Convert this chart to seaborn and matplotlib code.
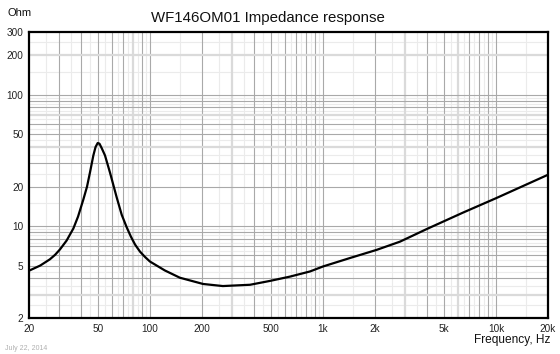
import matplotlib
matplotlib.use("Agg")
import numpy as np
import pandas as pd
import seaborn as sns
import matplotlib.pyplot as plt
from matplotlib.ticker import FixedLocator, FixedFormatter, NullLocator

# ---- data ----
freq_hz = [20, 23.2, 26.4, 28.3, 30.2, 33.0, 36.1, 38.4, 41.2, 43.3, 45.0, 47.1, 48.5,
           49.9, 51.1, 52.6, 55.0, 58.8, 64.3, 68.7, 73.4, 77.7, 82.0, 87.6, 94, 100,
           122, 149, 203, 264, 379, 494, 645, 842, 1000, 1433, 2046, 2789, 3980,
           6475, 10000, 20000]
impedance_ohm = [4.58, 5.01, 5.59, 6.05, 6.65, 7.77, 9.6, 11.8, 15.9, 20.0, 25.5, 34.5, 40.0,
                 42.9, 42.4, 39.3, 34.5, 25.5, 16.5, 12.2, 9.8, 8.3, 7.25, 6.4, 5.8, 5.38,
                 4.6, 4.05, 3.63, 3.50, 3.58, 3.83, 4.13, 4.52, 4.93, 5.72, 6.6, 7.62, 9.5,
                 12.7, 16.3, 24.6]

x_tick_values = [20, 50, 100, 200, 500, 1000, 2000, 5000, 10000, 20000]
x_tick_labels = ["20", "50", "100", "200", "500", "1k", "2k", "5k", "10k", "20k"]
y_tick_values = [2, 5, 10, 20, 50, 100, 200, 300]
y_tick_labels = ["2", "5", "10", "20", "50", "100", "200", "300"]

title_text = "WF146OM01 Impedance response"
y_unit = "Ohm"
x_label = "Frequency, Hz"
date_text = "July 22, 2014"

df = pd.DataFrame({"freq": freq_hz, "z": impedance_ohm})

sns.set_style("white")
plt.rcParams["font.family"] = ["Liberation Sans", "DejaVu Sans"]

W, H = 560, 354
fig = plt.figure(figsize=(W / 100, H / 100), dpi=100)
ax = fig.add_axes([29 / W, (H - 318) / H, (548 - 29) / W, (318 - 32) / H])
ax.set_xscale("log")
ax.set_yscale("log")
ax.set_xlim(20, 20000)
ax.set_ylim(2, 300)

# ---- grid ----
xmin, xmax = 20, 20000
ymin, ymax = 2, 300
x_soft = {80, 300, 3000, 6000}
y_soft = {3, 40, 70, 200}
x_dark = [m * 10 ** e for e in (1, 2, 3, 4) for m in range(1, 10)]
x_dark = [v for v in x_dark if xmin < v < xmax]
x_light = [(m + 0.5) * 10 ** e for e in (1, 2, 3, 4) for m in range(1, 10)]
x_light = [v for v in x_light if xmin < v < xmax]
y_dark = [m * 10 ** e for e in (0, 1, 2) for m in range(1, 10)]
y_dark = [v for v in y_dark if ymin < v < ymax]
y_light = [(m + 0.5) * 10 ** e for e in (0, 1, 2) for m in range(1, 10)]
y_light = [v for v in y_light if ymin < v < ymax]

for v in x_light:
    ax.axvline(v, color="#ebebeb", lw=0.8, zorder=0)
for v in y_light:
    ax.axhline(v, color="#ebebeb", lw=0.8, zorder=0)
for v in x_dark:
    if v in x_soft:
        ax.axvline(v, color="#dadada", lw=1.6, zorder=0.5)
    else:
        ax.axvline(v, color="#a9a9a9", lw=0.8, zorder=0.5)
for v in y_dark:
    if v in y_soft:
        ax.axhline(v, color="#dadada", lw=1.6, zorder=0.5)
    else:
        ax.axhline(v, color="#a9a9a9", lw=0.8, zorder=0.5)

# ---- curve ----
sns.lineplot(data=df, x="freq", y="z", color="black", lw=1.6, ax=ax, zorder=3)
ax.set_xlabel("")
ax.set_ylabel("")

ax.xaxis.set_major_locator(FixedLocator(x_tick_values))
ax.xaxis.set_major_formatter(FixedFormatter(x_tick_labels))
ax.xaxis.set_minor_locator(NullLocator())
ax.yaxis.set_major_locator(FixedLocator(y_tick_values))
ax.yaxis.set_major_formatter(FixedFormatter(y_tick_labels))
ax.yaxis.set_minor_locator(NullLocator())
ax.tick_params(axis="both", length=0, labelsize=7.2, colors="#222222")
ax.tick_params(axis="x", pad=4)
ax.tick_params(axis="y", pad=4)

for s in ax.spines.values():
    s.set_visible(True)
    s.set_color("black")
    s.set_linewidth(1.6)
    s.set_zorder(5)

fig.text(268 / W, 1 - 18 / H, title_text, ha="center", va="center", fontsize=10.8, color="#111111")
fig.text(7 / W, 1 - 13 / H, y_unit, ha="left", va="center", fontsize=8, color="#111111")
fig.text(551 / W, 1 - 340 / H, x_label, ha="right", va="center", fontsize=8.6, color="#111111")
fig.text(5 / W, 1 - 348 / H, date_text, ha="left", va="center", fontsize=5, color="#b0b0b0")

fig.savefig("out.png", dpi=100)
